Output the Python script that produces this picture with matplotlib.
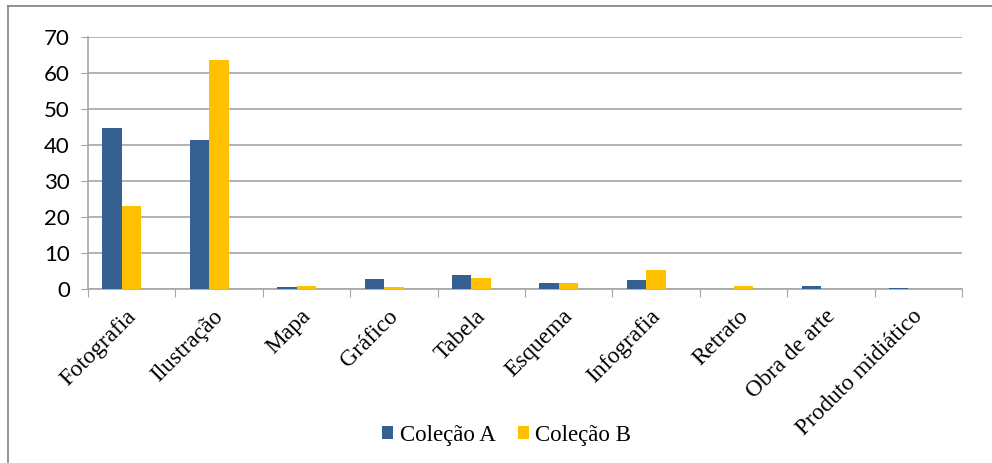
import matplotlib
matplotlib.use("Agg")
import matplotlib.pyplot as plt
import numpy as np
from matplotlib.lines import Line2D

categories = ["Fotografia", "Ilustração", "Mapa", "Gráfico", "Tabela", "Esquema",
              "Infografia", "Retrato", "Obra de arte", "Produto midiático"]
colecao_a = [44.6, 41.5, 0.5, 2.8, 3.9, 1.7, 2.4, 0.0, 0.8, 0.4]
colecao_b = [23.1, 63.7, 0.8, 0.6, 3.0, 1.6, 5.2, 0.8, 0.0, 0.1]
yticks = [0, 10, 20, 30, 40, 50, 60, 70]

plt.rcParams['font.family'] = ['Liberation Serif', 'DejaVu Serif']

fig = plt.figure(figsize=(9.92, 4.63), dpi=100)
ax = fig.add_axes([0.0887, 0.3758, 0.8811, 0.5442])

x = np.arange(len(categories))
w = 0.223
shift = -0.113  # bar groups sit slightly left of the category centre in the reference
ax.bar(x + shift - w/2, colecao_a, w, color="#376092", label="Coleção A", zorder=3)
ax.bar(x + shift + w/2, colecao_b, w, color="#FFC000", label="Coleção B", zorder=3)

ax.set_xlim(-0.5, len(categories) - 0.5)
ax.set_ylim(0, 70)
ax.set_yticks(yticks)
ax.set_yticklabels([str(v) for v in yticks], fontsize=16, family=['Lato', 'DejaVu Sans'])
ax.yaxis.grid(True, color="#A6A6A6", linewidth=1.2, zorder=0)
ax.tick_params(axis='y', length=5, color="#A6A6A6", pad=8)

ax.set_xticks(np.arange(-0.5, len(categories)), minor=False)
ax.set_xticklabels([])
ax.set_xticks(x - 0.07, minor=True)
ax.set_xticklabels(categories, minor=True, rotation=45, ha='right', va='top',
                   rotation_mode='anchor', fontsize=16.8)
ax.tick_params(axis='x', which='major', length=6, color="#A6A6A6", direction='out')
ax.tick_params(axis='x', which='minor', length=0, pad=12)

for s in ['top', 'right']:
    ax.spines[s].set_visible(False)
for s in ['left', 'bottom']:
    ax.spines[s].set_color("#A6A6A6")
    ax.spines[s].set_linewidth(1.2)

fig.legend(loc='center', bbox_to_anchor=(0.511, 0.06), ncol=2, frameon=False,
           fontsize=16.5, handlelength=0.45, handleheight=0.45, handletextpad=0.3,
           columnspacing=1.0)

# partial outer border (left and top only, as in the reference)
fx0 = 7.5 / 992
fy0 = 1 - 5.5 / 463
fig.lines.append(Line2D([fx0, fx0], [0, fy0], transform=fig.transFigure,
                        color="#7F7F7F", linewidth=1.2))
fig.lines.append(Line2D([fx0, 1], [fy0, fy0], transform=fig.transFigure,
                        color="#7F7F7F", linewidth=1.2))

fig.savefig("out.png", dpi=100)
